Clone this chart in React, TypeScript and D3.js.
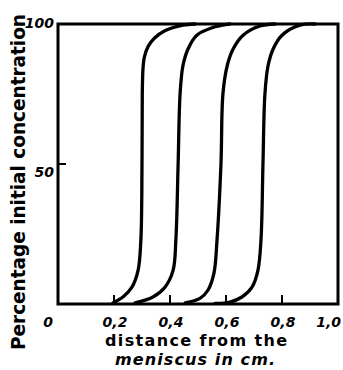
import React from "react";
import * as d3 from "d3";

const xTicks = [0.2, 0.4, 0.6, 0.8];
const xTickLabels = ["0", "0,2", "0,4", "0,6", "0,8", "1,0"];
const xTickLabelValues = [0, 0.2, 0.4, 0.6, 0.8, 1.0];
const yTickLabels = ["100", "50"];
const yTickValues = [100, 50];

const curve1X = [0.196, 0.232, 0.264, 0.286, 0.296, 0.3, 0.301, 0.3035, 0.308, 0.322, 0.345, 0.38, 0.446, 0.49];
const curve1Y = [0.4, 2.5, 6, 12, 23, 50, 75, 84, 88, 92, 95, 97.5, 99.6, 100];
const curve2X = [0.275, 0.339, 0.382, 0.411, 0.421, 0.429, 0.436, 0.446, 0.464, 0.496, 0.561, 0.614];
const curve2Y = [0.4, 2.5, 6, 12, 23, 50, 75, 85, 91, 96, 99, 100];
const curve3X = [0.454, 0.507, 0.536, 0.557, 0.568, 0.582, 0.589, 0.604, 0.625, 0.661, 0.721, 0.775];
const curve3Y = [0.4, 2, 5, 11, 23, 50, 75, 85, 91, 96, 99.3, 100];
const curve4X = [0.561, 0.614, 0.657, 0.693, 0.714, 0.725, 0.732, 0.739, 0.75, 0.768, 0.8, 0.864, 0.918];
const curve4Y = [0.2, 0.7, 2.5, 6, 12, 23, 50, 75, 85, 91, 96, 99.6, 100];

const curvesX = [curve1X, curve2X, curve3X, curve4X];
const curvesY = [curve1Y, curve2Y, curve3Y, curve4Y];

export default function App() {
  const W = 343, H = 370;
  const x = d3.scaleLinear().domain([0, 1]).range([58, 338]);
  const y = d3.scaleLinear().domain([0, 100]).range([304, 24]);
  const line = d3
    .line<[number, number]>()
    .x((d) => x(d[0]))
    .y((d) => y(d[1]))
    .curve(d3.curveCatmullRom.alpha(0.5));
  const tickFont = "'DejaVu Sans', sans-serif";
  return (
    <svg width={W} height={H} style={{ position: "absolute", left: 0, top: 0, background: "#fff" }}>
      <rect x={0} y={0} width={W} height={H} fill="#fff" />
      {curvesX.map((cx, i) => (
        <path
          key={i}
          d={line(cx.map((v, j) => [v, curvesY[i][j]]) as [number, number][]) || ""}
          fill="none"
          stroke="#000"
          strokeWidth={3.3}
          strokeLinecap="round"
        />
      ))}
      <rect x={x(0)} y={y(100)} width={x(1) - x(0)} height={y(0) - y(100)} fill="none" stroke="#000" strokeWidth={3} />
      {xTicks.map((t) => (
        <line key={t} x1={x(t)} x2={x(t)} y1={y(0)} y2={y(0) - 9} stroke="#000" strokeWidth={2} />
      ))}
      <line x1={x(0)} x2={x(0) + 8} y1={y(50)} y2={y(50)} stroke="#000" strokeWidth={2} />
      {xTickLabelValues.map((v, i) => (
        <text
          key={v}
          x={i === 0 ? x(v) - 10 : i === 5 ? 341 : x(v) + 1}
          y={327}
          textAnchor={i === 5 ? "end" : "middle"}
          fontFamily={tickFont}
          fontWeight="bold"
          fontStyle="italic"
          fontSize={14}
        >
          {xTickLabels[i]}
        </text>
      ))}
      {yTickValues.map((v, i) => (
        <text
          key={v}
          x={54}
          y={v === 100 ? 28 : 177}
          textAnchor="end"
          fontFamily={tickFont}
          fontWeight="bold"
          fontStyle="italic"
          fontSize={14}
        >
          {yTickLabels[i]}
        </text>
      ))}
      <text x={196} y={346} textAnchor="middle" fontFamily={tickFont} fontWeight="bold" fontSize={16} textLength={182} lengthAdjust="spacing">
        distance from the
      </text>
      <text x={195} y={365} textAnchor="middle" fontFamily={tickFont} fontWeight="bold" fontStyle="italic" fontSize={16} textLength={160} lengthAdjust="spacing">
        meniscus in cm.
      </text>
      <text
        transform="translate(25,182) rotate(-90)"
        textAnchor="middle"
        fontFamily={tickFont}
        fontWeight="bold"
        fontSize={19}
        textLength={336}
        lengthAdjust="spacingAndGlyphs"
      >
        Percentage initial concentration
      </text>
    </svg>
  );
}
